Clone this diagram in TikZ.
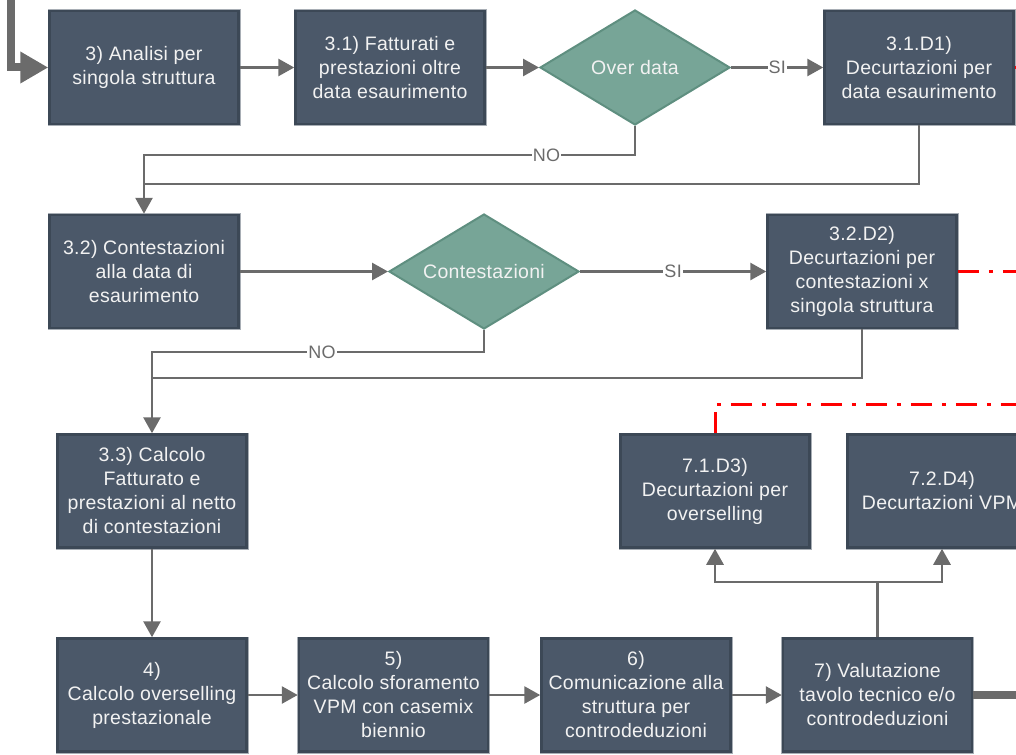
\documentclass[tikz,border=0pt]{standalone}
\usepackage{fontspec}
\setmainfont{Liberation Sans}[LetterSpace=1.5]
\usetikzlibrary{arrows.meta,shapes.geometric}
\definecolor{boxfill}{HTML}{4B5869}
\definecolor{boxline}{HTML}{3C4856}
\definecolor{boxouter}{HTML}{A8AEB5}
\definecolor{dfill}{HTML}{77A597}
\definecolor{dline}{HTML}{5F8F80}
\definecolor{conn}{HTML}{6B6B6B}
\definecolor{txt}{HTML}{F2F2F2}
\tikzset{
  pbox/.style={rectangle, fill=boxfill, draw=boxline, line width=2.5pt,
    preaction={draw=boxouter, line width=4pt},
    minimum width=189pt, minimum height=113pt, inner sep=2pt,
    text=txt, align=center, font=\fontsize{19.5}{24}\selectfont},
  dec/.style={diamond, fill=dfill, draw=dline, line width=2pt,
    minimum width=190pt, minimum height=115pt, aspect=1.65, inner sep=0pt,
    text=txt, align=center, font=\fontsize{19.5}{24}\selectfont},
  cn/.style={draw=conn, line width=2.8pt, -{Triangle[length=16pt,width=17pt]}},
  cnp/.style={draw=conn, line width=2.8pt},
  thk/.style={draw=conn, line width=8pt},
  lbl/.style={fill=white, text=conn, inner sep=1pt, font=\fontsize{18}{20}\selectfont},
  red/.style={draw=red, line width=3pt, dash pattern=on 21pt off 10pt on 4pt off 10pt}
}
\begin{document}
\begin{tikzpicture}[x=1pt,y=-1pt]
\useasboundingbox (0,0) rectangle (1016,754);
\clip (0,0) rectangle (1016,754);
% row 1
\node[pbox] (n3) at (144,67.5) {3) Analisi per\\singola struttura};
\node[pbox] (n31) at (390,67.5) {3.1) Fatturati e\\prestazioni oltre\\data esaurimento};
\node[dec] (d1) at (635,67.5) {Over data};
\node[pbox] (n31d1) at (919,67.5) {3.1.D1)\\Decurtazioni per\\data esaurimento};
% row 2
\node[pbox] (n32) at (144,271.5) {3.2) Contestazioni\\alla data di\\esaurimento};
\node[dec] (d2) at (484,271.5) {Contestazioni};
\node[pbox] (n32d2) at (862,271.5) {3.2.D2)\\Decurtazioni per\\contestazioni x\\singola struttura};
% row 3
\node[pbox] (n33) at (152,491) {3.3) Calcolo\\Fatturato e\\prestazioni al netto\\di contestazioni};
\node[pbox] (n71) at (715,491) {7.1.D3)\\Decurtazioni per\\overselling};
\node[pbox] (n72) at (942,491) {7.2.D4)\\Decurtazioni VPM};
% row 4
\node[pbox] (n4) at (152,695) {4)\\Calcolo overselling\\prestazionale};
\node[pbox] (n5) at (393.5,695) {5)\\Calcolo sforamento\\VPM con casemix\\biennio};
\node[pbox] (n6) at (636,695) {6)\\Comunicazione alla\\struttura per\\controdeduzioni};
\node[pbox] (n7) at (877.5,695) {7) Valutazione\\tavolo tecnico e/o\\controdeduzioni};
% helper coordinates
\coordinate (yNO1) at (0,155);
\coordinate (yD1) at (0,184);
\coordinate (yNO2) at (0,352);
\coordinate (yD2) at (0,378);
\coordinate (ysp) at (0,582);
\coordinate (tin) at (11,0);
\coordinate (tout) at (1016,695);
\coordinate (r1) at (1016,67.5);
\coordinate (r2) at (1016,271.5);
\coordinate (r3) at (1016,404);
% thick in/out
\draw[thk, -{Triangle[length=28pt,width=30pt]}] (tin) |- (n3.west);
\draw[thk] (n7.east) -- (tout);
% row 1 connectors
\draw[cn] (n3) -- (n31);
\draw[cn] (n31) -- (d1);
\draw[cn] (d1) -- node[lbl, pos=0.5]{SI} (n31d1);
\draw[cn] (d1.south) |- node[lbl, pos=0.59]{NO} (n32.north |- yNO1) -- (n32.north);
\draw[cnp] (n31d1.south) |- (n32.north |- yD1);
% row 2 connectors
\draw[cn] (n32) -- (d2);
\draw[cn] (d2.east) -- node[lbl, pos=0.5]{SI} (n32d2.west);
\draw[cn] (d2.south) |- node[lbl, pos=0.744]{NO} (n33.north |- yNO2) -- (n33.north);
\draw[cnp] (n32d2.south) |- (n33.north |- yD2);
% row 3/4 connectors
\draw[cn] (n33) -- (n4);
\draw[cn] (n4) -- (n5);
\draw[cn] (n5) -- (n6);
\draw[cn] (n6) -- (n7);
\draw[cnp] (n7.north) -- (n7.north |- ysp);
\draw[cn] (n7.north |- ysp) -| (n71.south);
\draw[cn] (n7.north |- ysp) -| (n72.south);
% red dash-dot
\draw[red] (n31d1.east) -- (r1);
\draw[red] (n32d2.east) -- (r2);
\draw[red] (n71.north) |- (r3);
\end{tikzpicture}
\end{document}
